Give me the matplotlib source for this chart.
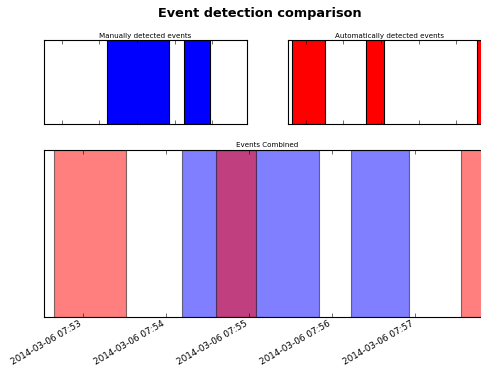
import matplotlib
matplotlib.use("Agg")
import matplotlib.pyplot as plt
import matplotlib.dates as mdates
from datetime import datetime

plt.style.use("classic")
plt.rcParams["font.family"] = ["DejaVu Sans"]

# Data: event intervals (start, end)
manual_events = [
    ("2014-03-06 07:54:12", "2014-03-06 07:55:51"),
    ("2014-03-06 07:56:14", "2014-03-06 07:56:56"),
]
auto_events = [
    ("2014-03-06 07:52:39", "2014-03-06 07:53:31"),
    ("2014-03-06 07:54:36", "2014-03-06 07:55:05"),
    ("2014-03-06 07:57:33", "2014-03-06 07:58:10"),
]
x_range = ("2014-03-06 07:52:32", "2014-03-06 07:57:55")

title = "Event detection comparison"
manual_title = "Manually detected events"
auto_title = "Automatically detected events"
combined_title = "Events Combined"

fmt = "%Y-%m-%d %H:%M:%S"
def p(s):
    return mdates.date2num(datetime.strptime(s, fmt))

xmin, xmax = p(x_range[0]), p(x_range[1])

dpi = 80
fig = plt.figure(figsize=(481 / dpi, 366 / dpi), dpi=dpi, facecolor="white")

ax1 = fig.add_axes([44 / 481, 1 - 124 / 366, 203 / 481, 84 / 366])
ax2 = fig.add_axes([288 / 481, 1 - 124 / 366, 203 / 481, 84 / 366])
ax3 = fig.add_axes([44 / 481, 1 - 317 / 366, 447 / 481, 167.5 / 366])

for s, e in manual_events:
    ax1.axvspan(p(s), p(e), facecolor="blue", edgecolor="black", linewidth=1)
for s, e in auto_events:
    ax2.axvspan(p(s), p(e), facecolor="red", edgecolor="black", linewidth=1)
for s, e in manual_events:
    ax3.axvspan(p(s), p(e), facecolor="blue", edgecolor="black", linewidth=1, alpha=0.5)
for s, e in auto_events:
    ax3.axvspan(p(s), p(e), facecolor="red", edgecolor="black", linewidth=1, alpha=0.5)

for ax, t in ((ax1, manual_title), (ax2, auto_title), (ax3, combined_title)):
    ax.set_facecolor("white")
    ax.set_xlim(xmin, xmax)
    ax.set_ylim(0, 1)
    ax.set_yticks([])
    ax.xaxis.set_major_locator(mdates.MinuteLocator())
    ax.xaxis.set_major_formatter(mdates.DateFormatter("%Y-%m-%d %H:%M"))
    ax.set_title(t, fontsize=6.4, pad=2)

ax1.tick_params(axis="x", labelbottom=False)
ax2.tick_params(axis="x", labelbottom=False)
ax3.tick_params(axis="x", pad=2)
for lbl in ax3.get_xticklabels():
    lbl.set_rotation(30)
    lbl.set_ha("right")
    lbl.set_fontsize(8)

fig.text(260 / 481, 1 - 13.5 / 366, title, ha="center", va="center",
         fontsize=11.6, fontweight="bold")

fig.savefig("out.png", dpi=dpi, facecolor="white")
